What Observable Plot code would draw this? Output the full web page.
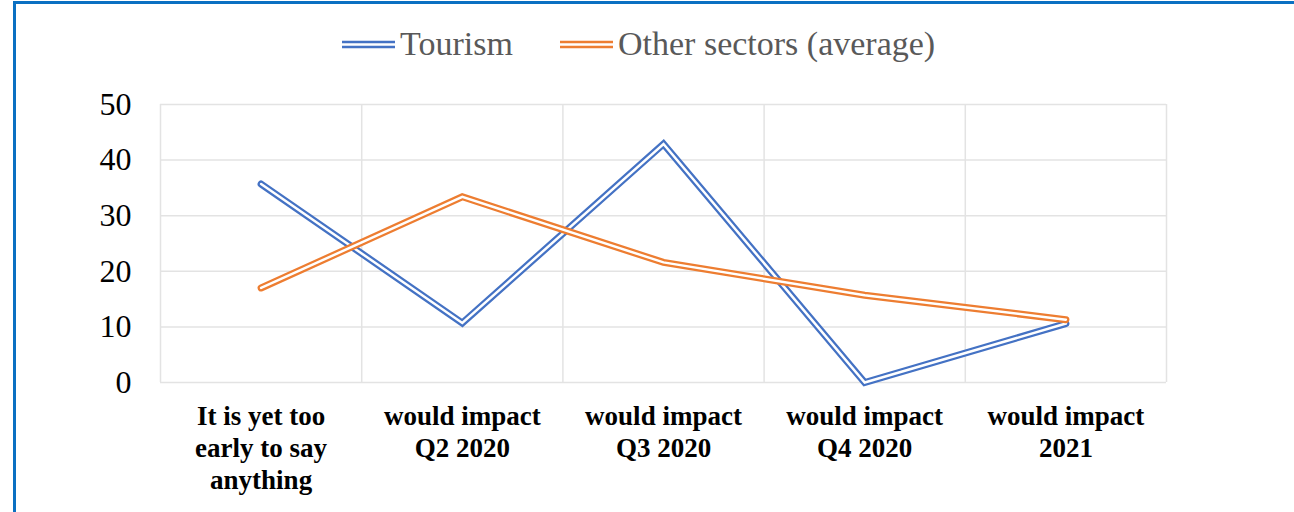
<!DOCTYPE html>
<html>
<head>
<meta charset="utf-8">
<script src="https://cdn.jsdelivr.net/npm/d3@7"></script>
<script src="https://cdn.jsdelivr.net/npm/@observablehq/plot@0.6"></script>
<style>
  html, body { margin: 0; padding: 0; background: #fff; width: 1294px; height: 512px; overflow: hidden; }
  #frame { position: absolute; left: 13px; top: 1px; width: 1400px; height: 600px;
           border-top: 3px solid #0B70C2; border-left: 3px solid #0B70C2; box-sizing: border-box; }
  #chart { position: absolute; left: 0; top: 0; }
  .leg { position: absolute; top: 25px; display: flex; align-items: center;
         font-family: "Liberation Serif", serif; font-size: 34px; color: #595959; white-space: nowrap; }
  .leg svg { margin-right: 5px; margin-top: 2px; }
</style>
</head>
<body>
<div id="frame"></div>
<div id="chart"></div>
<div id="legend"></div>
<script>
const categories = [
  "It is yet too\nearly to say\nanything",
  "would impact\nQ2 2020",
  "would impact\nQ3 2020",
  "would impact\nQ4 2020",
  "would impact\n2021"
];
const tourism = [35.7, 10.7, 42.9, 0, 10.6];
const others = [17.0, 33.4, 21.6, 15.7, 11.3];
const yTicks = [0, 10, 20, 30, 40, 50];
const seriesNames = ["Tourism", "Other sectors (average)"];
const seriesColors = ["#4472C4", "#ED7D31"];

const rows = categories.map((c, i) => ({i, c, tourism: tourism[i], other: others[i]}));
const boundaries = d3.range(categories.length + 1).map(i => i - 0.5);

function doubleLine(key, color) {
  return [
    Plot.line(rows, {x: "i", y: key, stroke: color, strokeWidth: 7, strokeLinejoin: "miter", strokeMiterlimit: 10}),
    Plot.line(rows, {x: "i", y: key, stroke: "white", strokeWidth: 2.5, strokeLinejoin: "miter", strokeMiterlimit: 10})
  ];
}

const chart = Plot.plot({
  width: 1294,
  height: 512,
  marginTop: 104,
  marginBottom: 130,
  marginLeft: 160,
  marginRight: 128,
  style: {background: "transparent", fontFamily: "'Liberation Serif', serif", color: "#000"},
  x: {type: "linear", domain: [-0.5, categories.length - 0.5]},
  y: {domain: [0, 50]},
  marks: [
    Plot.ruleY(yTicks, {stroke: "#e3e3e3", strokeWidth: 1.5}),
    Plot.ruleX(boundaries, {stroke: "#e3e3e3", strokeWidth: 1.5}),
    ...doubleLine("tourism", seriesColors[0]),
    ...doubleLine("other", seriesColors[1]),
    Plot.axisY({ticks: yTicks, tickSize: 0, tickPadding: 29, fontSize: 32, label: null}),
    Plot.axisX({ticks: categories.map((_, i) => i), tickFormat: i => categories[i], tickSize: 0,
                tickPadding: 20, fontSize: 27, fontWeight: "bold", lineHeight: 1.18, label: null})
  ]
});
document.getElementById("chart").appendChild(chart);

// legend
const legend = document.getElementById("legend");
const legLeft = [342, 560];
seriesNames.forEach((name, k) => {
  const item = document.createElement("div");
  item.className = "leg";
  item.style.left = legLeft[k] + "px";
  item.innerHTML = `<svg width="53" height="12"><line x1="0" x2="53" y1="3" y2="3" stroke="${seriesColors[k]}" stroke-width="2.5"/><line x1="0" x2="53" y1="8" y2="8" stroke="${seriesColors[k]}" stroke-width="2.5"/></svg><span>${name}</span>`;
  legend.appendChild(item);
});
</script>
</body>
</html>
